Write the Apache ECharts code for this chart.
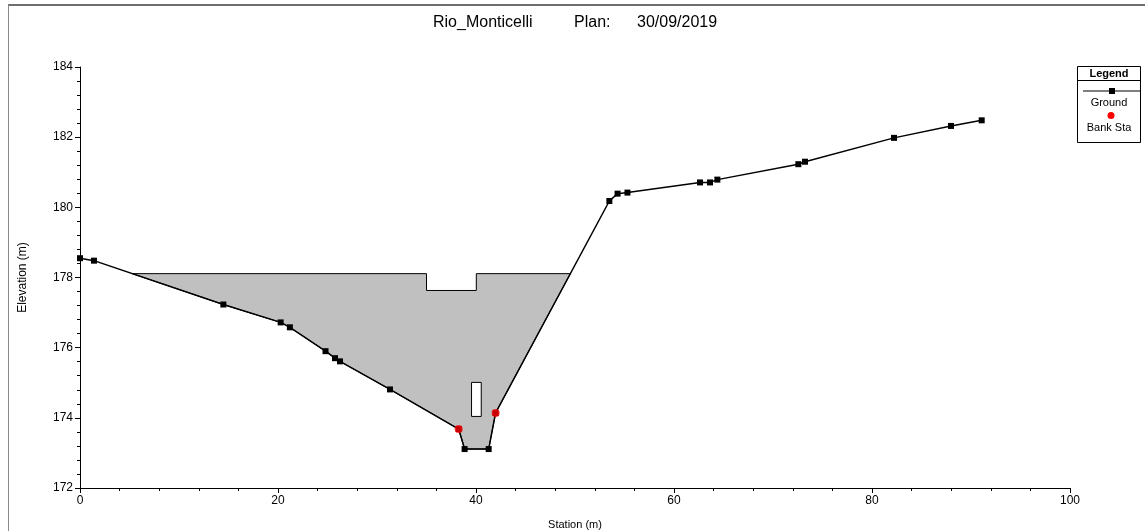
<!DOCTYPE html>
<html>
<head>
<meta charset="utf-8">
<script src="https://cdn.jsdelivr.net/npm/echarts@6/dist/echarts.min.js"></script>
<style>
html,body{margin:0;padding:0;background:#fff;}
#chart{width:1145px;height:531px;}
</style>
</head>
<body>
<div id="chart"></div>
<script>
// ---- Data ----
var titleRiver = 'Rio_Monticelli';
var titlePlan = 'Plan:';
var titleDate = '30/09/2019';

var groundStation = [0, 1.41, 14.48, 20.27, 21.2, 24.8, 25.76, 26.26, 31.31, 38.25, 38.85, 41.28, 41.98, 53.47, 54.3, 55.3, 62.63, 63.64, 64.38, 72.56, 73.23, 82.22, 87.98, 91.08];
var groundElev    = [178.55, 178.48, 177.23, 176.72, 176.58, 175.90, 175.70, 175.61, 174.81, 173.68, 173.11, 173.11, 174.14, 180.18, 180.39, 180.42, 180.71, 180.71, 180.79, 181.23, 181.30, 181.98, 182.32, 182.48];

var bankStation = [38.25, 41.98];
var bankElev    = [173.68, 174.14];

var waterSurface = 178.11;

var deckStart = 35.0;
var deckEnd = 40.03;
var deckLow = 177.63;

var pierLeft = 39.55;
var pierRight = 40.53;
var pierBottom = 174.04;
var pierTop = 175.01;

var xMin = 0, xMax = 100, xInterval = 20;
var yMin = 172, yMax = 184, yInterval = 2;

// ---- Build series data ----
var groundData = groundStation.map(function (s, i) { return [s, groundElev[i]]; });
var bankData = bankStation.map(function (s, i) { return [s, bankElev[i]]; });

// Water polygon: ground below the water surface, minus deck notch
function waterPolygon() {
  var pts = [];
  var n = groundStation.length;
  var started = false;
  for (var i = 0; i < n - 1; i++) {
    var x0 = groundStation[i], y0 = groundElev[i], x1 = groundStation[i + 1], y1 = groundElev[i + 1];
    if (!started) {
      if (y0 >= waterSurface && y1 < waterSurface) {
        var t = (y0 - waterSurface) / (y0 - y1);
        pts.push([x0 + t * (x1 - x0), waterSurface]);
        started = true;
        pts.push([x1, y1]);
      }
    } else {
      if (y1 < waterSurface) {
        pts.push([x1, y1]);
      } else {
        var t2 = (waterSurface - y0) / (y1 - y0);
        pts.push([x0 + t2 * (x1 - x0), waterSurface]);
        break;
      }
    }
  }
  pts.push([deckEnd, waterSurface]);
  pts.push([deckEnd, deckLow]);
  pts.push([deckStart, deckLow]);
  pts.push([deckStart, waterSurface]);
  return pts;
}
var waterPts = waterPolygon();

var chart = echarts.init(document.getElementById('chart'), null, {renderer: 'canvas'});

var FONT = '"Liberation Sans", Arial, sans-serif';

var option = {
  animation: false,
  backgroundColor: '#ffffff',
  grid: {left: 80, right: 75, top: 67, bottom: 43, containLabel: false, outerBoundsMode: 'none'},
  xAxis: {
    type: 'value', min: xMin, max: xMax, interval: xInterval,
    name: 'Station (m)', nameLocation: 'middle', nameGap: 31,
    nameTextStyle: {fontFamily: FONT, fontSize: 11, color: '#000'},
    axisLine: {show: true, onZero: false, lineStyle: {color: '#000', width: 1}},
    axisTick: {show: true, inside: false, length: 5, lineStyle: {color: '#000'}},
    minorTick: {show: true, splitNumber: 5, length: 3, lineStyle: {color: '#000'}},
    axisLabel: {fontFamily: FONT, fontSize: 12, color: '#000', margin: 7},
    splitLine: {show: false}
  },
  yAxis: {
    type: 'value', min: yMin, max: yMax, interval: yInterval,
    name: 'Elevation (m)', nameLocation: 'middle', nameGap: 51, nameRotate: 90,
    nameTextStyle: {fontFamily: FONT, fontSize: 12, color: '#000'},
    axisLine: {show: true, onZero: false, lineStyle: {color: '#000', width: 1}},
    axisTick: {show: true, inside: false, length: 5, lineStyle: {color: '#000'}},
    minorTick: {show: true, splitNumber: 5, length: 3, lineStyle: {color: '#000'}},
    axisLabel: {fontFamily: FONT, fontSize: 12, color: '#000', margin: 7},
    splitLine: {show: false}
  },
  series: [
    {
      name: 'Water',
      type: 'custom',
      z: 1,
      silent: true,
      data: [[xMin, yMin]],
      renderItem: function (params, api) {
        var pts = waterPts.map(function (p) { return api.coord(p); });
        var pLT = api.coord([pierLeft, pierTop]);
        var pRB = api.coord([pierRight, pierBottom]);
        return {
          type: 'group',
          children: [
            {type: 'polygon', shape: {points: pts},
             style: {fill: '#c0c0c0', stroke: '#000', lineWidth: 1}},
            {type: 'rect', shape: {x: pLT[0], y: pLT[1], width: pRB[0] - pLT[0], height: pRB[1] - pLT[1]},
             style: {fill: '#fff', stroke: '#000', lineWidth: 1}}
          ]
        };
      }
    },
    {
      name: 'Ground',
      type: 'line',
      z: 3,
      data: groundData,
      symbol: 'rect',
      symbolSize: 6,
      showAllSymbol: true,
      itemStyle: {color: '#000'},
      lineStyle: {color: '#000', width: 1.5}
    },
    {
      name: 'Bank Sta',
      type: 'scatter',
      z: 4,
      data: bankData,
      symbol: 'circle',
      symbolSize: 8,
      itemStyle: {color: '#ff0000'}
    }
  ],
  graphic: [
    // outer frame
    {type: 'line', shape: {x1: 8, y1: 5, x2: 1145, y2: 5}, style: {stroke: '#6e6e6e', lineWidth: 2}, silent: true},
    {type: 'line', shape: {x1: 8.5, y1: 5, x2: 8.5, y2: 531}, style: {stroke: '#8a8a8a', lineWidth: 1}, silent: true},
    // title
    {type: 'text', left: 433, top: 15, style: {text: titleRiver, font: '16px ' + FONT, fill: '#000'}},
    {type: 'text', left: 574, top: 15, style: {text: titlePlan, font: '16px ' + FONT, fill: '#000'}},
    {type: 'text', left: 637, top: 15, style: {text: titleDate, font: '16px ' + FONT, fill: '#000'}},
    // legend
    {type: 'rect', shape: {x: 1077.5, y: 66.5, width: 63, height: 76}, style: {fill: '#fff', stroke: '#000', lineWidth: 1}},
    {type: 'line', shape: {x1: 1077.5, y1: 80.5, x2: 1140.5, y2: 80.5}, style: {stroke: '#000', lineWidth: 1}},
    {type: 'text', x: 1109, y: 73.5, style: {text: 'Legend', font: 'bold 11px ' + FONT, fill: '#000', align: 'center', verticalAlign: 'middle'}},
    {type: 'line', shape: {x1: 1083, y1: 91, x2: 1140, y2: 91}, style: {stroke: '#000', lineWidth: 1.2}},
    {type: 'rect', shape: {x: 1109, y: 88, width: 6, height: 6}, style: {fill: '#000'}},
    {type: 'text', x: 1109, y: 103, style: {text: 'Ground', font: '11px ' + FONT, fill: '#000', align: 'center', verticalAlign: 'middle'}},
    {type: 'circle', shape: {cx: 1111, cy: 115.5, r: 3.5}, style: {fill: '#ff0000'}},
    {type: 'text', x: 1109, y: 128, style: {text: 'Bank Sta', font: '11px ' + FONT, fill: '#000', align: 'center', verticalAlign: 'middle'}}
  ]
};
chart.setOption(option);
</script>
</body>
</html>
